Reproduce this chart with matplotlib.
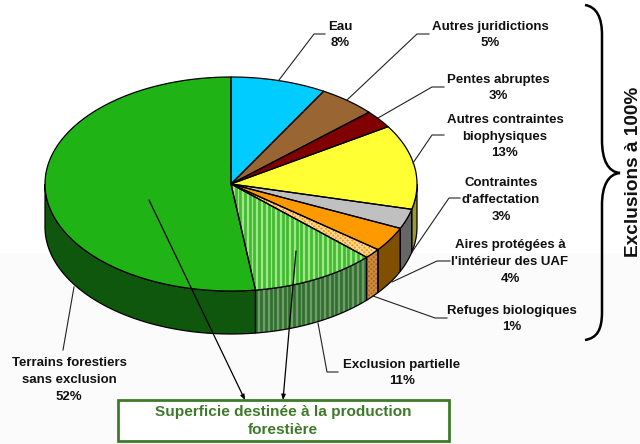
import numpy as np
import matplotlib
matplotlib.use("Agg")
import matplotlib.pyplot as plt
from matplotlib.patches import Polygon, Rectangle, PathPatch
from matplotlib.path import Path

plt.rcParams['font.family'] = ['Liberation Sans', 'DejaVu Sans']
plt.rcParams['hatch.linewidth'] = 1.0

# data
categories = ["Eau", "Autres juridictions", "Pentes abruptes",
              "Autres contraintes\nbiophysiques", "Contraintes\nd'affectation",
              "Aires protégées à\nl'intérieur des UAF", "Refuges biologiques",
              "Exclusion partielle", "Terrains forestiers\nsans exclusion"]
labels_pct = [8, 5, 3, 13, 3, 4, 1, 11, 52]
shares = [8.3, 5.0, 2.7, 12.8, 3.0, 3.7, 1.5, 10.9, 52.1]
box_title = "Superficie destinée à la production\nforestière"
side_title = "Exclusions à 100%"

# styles
top_colors = ['#00ccff', '#996633', '#800000', '#ffff33', '#c0c0c0', '#ff9900', '#ff9900', '#9ce884', '#1fb316']
side_colors = ['#006680', '#4d3319', '#400000', '#999933', '#666666', '#804f00', '#a5692c', '#6f9c68', '#0f570d']
CX, CY, RX, RY, DEPTH = 231, 184, 186, 107, 43

label_xy = [(340, 35), (490, 35), (498, 88), (505, 136.5), (501, 200), (510, 262), (512, 319), (402, 373), (69, 380)]
leaders = [[(279, 80), (314, 34), (325, 34)],
           [(347, 100), (417, 34), (429, 34)],
           [(378, 118), (432, 87), (444, 87)],
           [(413, 163), (432, 135), (444, 135)],
           [(412, 252), (449, 198), (460, 198)],
           [(392, 282), (437, 261), (450, 261)],
           [(373, 296), (435, 318), (447, 318)],
           [(318, 323), (327, 372), (338, 372)],
           [(74, 287), (63, 350)]]

fig = plt.figure(figsize=(6.4, 4.44), dpi=100)
ax = fig.add_axes([0, 0, 1, 1])
ax.set_xlim(0, 640)
ax.set_ylim(444, 0)
ax.axis('off')
ax.add_patch(Rectangle((0, 253), 640, 191, fc='#fbfbfb', ec='none', zorder=0))


def ell(t, dy=0):
    t = np.radians(t)
    return np.column_stack([CX + RX * np.sin(t), CY - RY * np.cos(t) + dy])


edges = np.concatenate([[0], np.cumsum(shares)]) / sum(shares) * 360

# sides
for i in range(len(shares)):
    a, b = max(edges[i], 90), min(edges[i + 1], 270)
    if b <= a:
        continue
    t = np.linspace(a, b, 80)
    pts = np.vstack([ell(t), ell(t[::-1], DEPTH)])
    if i == 6:
        p = Polygon(pts, closed=True, fc=side_colors[i], ec='#d08a3a', hatch='xxxxxxx', lw=0, zorder=2)
        ax.add_patch(p)
    else:
        p = Polygon(pts, closed=True, fc=side_colors[i], ec='none', zorder=2)
        ax.add_patch(p)
    if i == 7:
        xs = np.arange(pts[:, 0].min(), pts[:, 0].max(), 4.7)
        vl = ax.vlines(xs + 1, 240, 340, color='#2f6f2f', lw=1.9, zorder=2.5)
        vl.set_clip_path(p)
    ax.add_patch(Polygon(pts, closed=True, fc='none', ec='black', lw=0.9, zorder=3))

# top
for i in range(len(shares)):
    t = np.linspace(edges[i], edges[i + 1], 120)
    pts = np.vstack([[CX, CY], ell(t)])
    if i == 6:
        p = Polygon(pts, closed=True, fc=top_colors[i], ec='#ffd9a0', hatch='xxxxxxx', lw=0, zorder=4)
        ax.add_patch(p)
    else:
        p = Polygon(pts, closed=True, fc=top_colors[i], ec='none', zorder=4)
        ax.add_patch(p)
    if i == 7:
        xs = np.arange(230, 370, 4.7)
        vl = ax.vlines(xs + 1, 180, 295, color='#45bb35', lw=2.0, zorder=4.5)
        vl.set_clip_path(p)
    ax.add_patch(Polygon(pts, closed=True, fc='none', ec='black', lw=0.9, zorder=5))

# leaders
for pts in leaders:
    xy = np.array(pts)
    ax.plot(xy[:, 0], xy[:, 1], color='#222222', lw=0.8, zorder=6)

# arrows to box
for start, end in [((149, 200), (245, 400)), ((296, 251), (283, 400))]:
    ax.annotate('', xy=end, xytext=start, zorder=6,
                arrowprops=dict(arrowstyle='-|>,head_length=0.3,head_width=0.12', color='black', lw=0.9,
                                shrinkA=0, shrinkB=0))

# labels
for name, pct, (x, y) in zip(categories, labels_pct, label_xy):
    ax.text(x, y, f"{name}\n{pct}%", ha='center', va='center', fontsize=9.5, fontweight='bold',
            color='#111111', linespacing=1.52, zorder=7)

# box
ax.add_patch(Rectangle((117.5, 400), 331, 41, fc='white', ec='#3f7a2a', lw=2, zorder=7))
ax.text(283, 421, box_title, ha='center', va='center', fontsize=11.1, fontweight='bold',
        color='#3f7a2a', linespacing=1.4, zorder=8)

# brace
verts = [(585, 5), (597, 7), (602, 18), (602, 35),
         (602, 140),
         (602, 160), (608, 172), (620, 173),
         (608, 174), (602, 186), (602, 205),
         (602, 312),
         (602, 330), (597, 338), (585, 340)]
codes = [Path.MOVETO, Path.CURVE4, Path.CURVE4, Path.CURVE4, Path.LINETO,
         Path.CURVE4, Path.CURVE4, Path.CURVE4, Path.CURVE4, Path.CURVE4, Path.CURVE4,
         Path.LINETO, Path.CURVE4, Path.CURVE4, Path.CURVE4]
ax.add_patch(PathPatch(Path(verts, codes), fc='none', ec='black', lw=1.8, zorder=6))
ax.text(633, 172, side_title, rotation=90, ha='center', va='center', fontsize=13.7,
        fontweight='bold', color='#111111', zorder=7)

fig.savefig('out.png', dpi=100)
